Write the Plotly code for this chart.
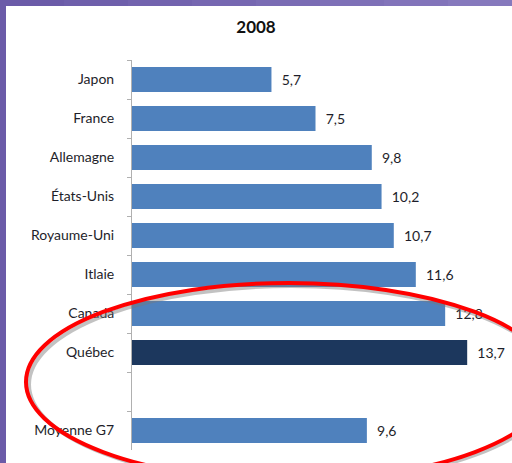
import plotly.graph_objects as go

# Data
pays = ["Japon", "France", "Allemagne", "États-Unis", "Royaume-Uni",
        "Itlaie", "Canada", "Québec", " ", "Moyenne G7"]
valeurs = [5.7, 7.5, 9.8, 10.2, 10.7, 11.6, 12.8, 13.7, None, 9.6]
couleurs = ["#4f81bd"] * 7 + ["#1c375d", "#4f81bd", "#4f81bd"]

etiquettes = ["" if v is None else "\u00a0\u00a0" + f"{v:.1f}".replace(".", ",")
              for v in valeurs]

W, H = 512, 463
L, R, T, B = 132, 13, 60, 13
pw, ph = W - L - R, H - T - B


def px_x(x):
    return (x - L) / pw


def px_y(y):
    return (H - B - y) / ph


fig = go.Figure(go.Bar(
    x=valeurs,
    y=pays,
    orientation="h",
    marker=dict(color=couleurs, line=dict(width=0)),
    width=0.64,
    text=etiquettes,
    textposition="outside",
    textfont=dict(family="Lato", size=14, color="#1e1e2a"),
    cliponaxis=False,
    hoverinfo="skip",
))

# purple frame (left and top)
fig.add_shape(type="rect", xref="paper", yref="paper", layer="below",
              x0=px_x(0), x1=px_x(6), y0=px_y(H + 5), y1=px_y(0),
              fillcolor="#6b5ba8", line_width=0)
n = 8
for i in range(n):
    t = i / (n - 1)
    c = "#%02x%02x%02x" % (int(0x6b + t * (0x86 - 0x6b)),
                           int(0x5b + t * (0x79 - 0x5b)),
                           int(0xa8 + t * (0xbd - 0xa8)))
    fig.add_shape(type="rect", xref="paper", yref="paper", layer="below",
                  x0=px_x(i * W / n), x1=px_x((i + 1) * W / n + 1),
                  y0=px_y(6), y1=px_y(0), fillcolor=c, line_width=0)

# red ellipse with soft shadow
fig.add_shape(type="circle", xref="paper", yref="paper",
              x0=px_x(29), x1=px_x(554), y0=px_y(483), y1=px_y(286),
              line=dict(color="rgba(120,120,120,0.45)", width=4))
fig.add_shape(type="circle", xref="paper", yref="paper",
              x0=px_x(26), x1=px_x(552), y0=px_y(481), y1=px_y(283),
              line=dict(color="#ff0000", width=4))

fig.update_layout(
    width=W, height=H,
    margin=dict(l=L, r=R, t=T, b=B, autoexpand=False),
    paper_bgcolor="white",
    plot_bgcolor="white",
    showlegend=False,
    title=dict(text="<b>2008</b>", x=0.5, xref="container", y=1 - 27 / H,
               yref="container", xanchor="center", yanchor="middle",
               font=dict(family="Lato", size=17, color="#111111")),
    xaxis=dict(range=[0, 15], visible=False, automargin=False),
    yaxis=dict(
        categoryorder="array", categoryarray=pays,
        autorange="reversed", automargin=False,
        showline=True, linecolor="#b0b0b0", linewidth=1,
        ticks="outside", tickson="boundaries", ticklen=4, tickcolor="#b0b0b0",
        showgrid=False,
        tickfont=dict(family="Lato", size=14, color="#1e1e2a"),
        ticklabelstandoff=14,
    ),
)

# page default margin would shift the chart by 8px
fig.write_html("out.html",
               config={"displayModeBar": False},
               post_script="document.body.style.margin='0';"
                           "document.body.style.overflow='hidden';")
